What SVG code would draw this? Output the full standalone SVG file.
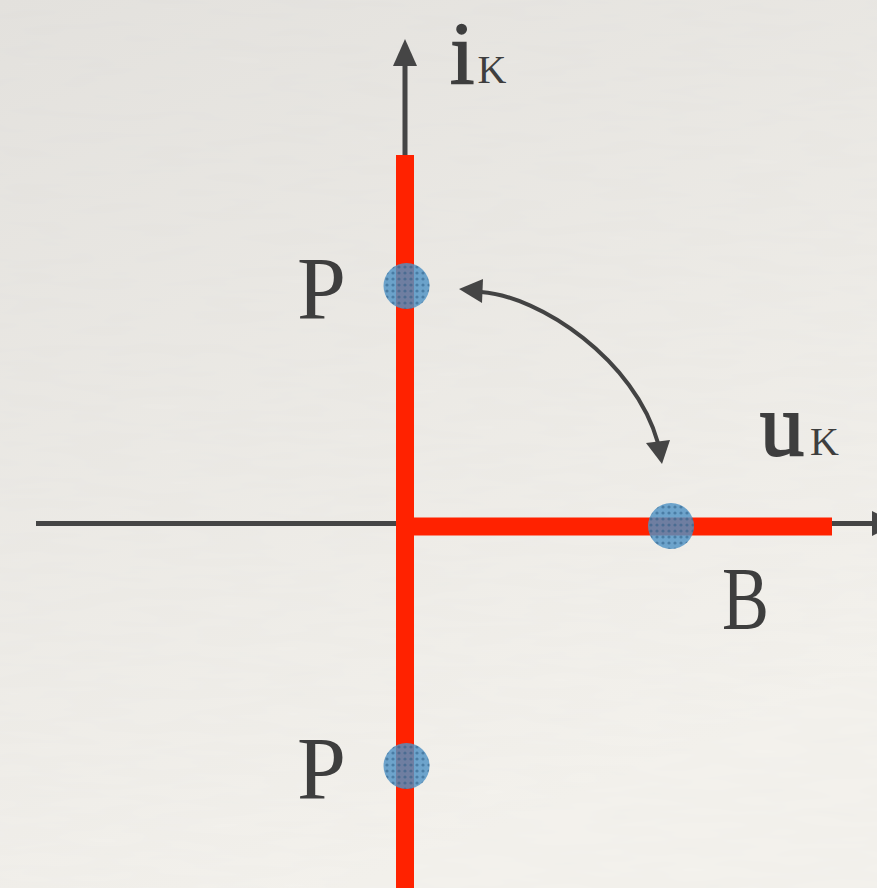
<svg xmlns="http://www.w3.org/2000/svg" width="877" height="888" viewBox="0 0 877 888">
  <defs>
    <linearGradient id="bg" x1="0" y1="0" x2="0.4" y2="1">
      <stop offset="0" stop-color="#e4e2de"/>
      <stop offset="1" stop-color="#f4f2ed"/>
    </linearGradient>
    <filter id="grain" x="0" y="0" width="100%" height="100%">
      <feTurbulence type="fractalNoise" baseFrequency="0.015 0.09" numOctaves="2" seed="3"/>
      <feColorMatrix type="matrix" values="0 0 0 0 0.5  0 0 0 0 0.5  0 0 0 0 0.5  0 0 0 0.06 0"/>
    </filter>
    <pattern id="dots" width="6" height="6" patternUnits="userSpaceOnUse">
      <circle cx="3" cy="3" r="1.6" fill="#2e5d85" opacity="0.55"/>
    </pattern>
    <style>
      .axis { stroke: #454545; stroke-width: 5; fill: none; }
      .head { fill: #454545; }
      .red { stroke: #ff2200; stroke-width: 18; fill: none; }
      .arc { stroke: #434343; stroke-width: 4; fill: none; }
      .dot { fill: #4f93c4; fill-opacity: 0.82; }
      .dotx { fill: url(#dots); }
      .lbl { font-family: "Liberation Serif", "DejaVu Serif", serif; fill: #3e3e3e; }
    </style>
  </defs>
  <rect width="877" height="888" fill="url(#bg)"/>
  <rect width="877" height="888" filter="url(#grain)"/>

  <g id="connectors">
    <line class="axis" x1="405" y1="62" x2="405" y2="888"/>
    <polygon class="head" points="405,39 393,66 417,66"/>
    <line class="axis" x1="36" y1="523.5" x2="874" y2="523.5"/>
    <polygon class="head" points="898,523.5 872,511 872,536"/>
    <line class="red" x1="405" y1="155" x2="405" y2="888"/>
    <line class="red" x1="396" y1="526.5" x2="832" y2="526.5"/>
    <path class="arc" d="M 481 292 C 540 296, 635 360, 658 443"/>
    <polygon class="head" points="459,289 483,279 482,303"/>
    <polygon class="head" points="662,464 646,443 670,440"/>
  </g>

  <g id="node-P-top">
    <circle class="dot" cx="406.5" cy="286" r="23"/>
    <circle class="dotx" cx="406.5" cy="286" r="23"/>
    <text class="lbl" x="297" y="318" font-size="88">P</text>
  </g>
  <g id="node-P-bottom">
    <circle class="dot" cx="406.5" cy="766" r="23"/>
    <circle class="dotx" cx="406.5" cy="766" r="23"/>
    <text class="lbl" x="297" y="798" font-size="88">P</text>
  </g>
  <g id="node-B">
    <circle class="dot" cx="671" cy="526" r="23"/>
    <circle class="dotx" cx="671" cy="526" r="23"/>
    <text class="lbl" transform="translate(722,628) scale(0.8,1)" font-size="88">B</text>
  </g>
  <g id="label-iK">
    <text class="lbl" x="450" y="83"><tspan font-size="88" stroke="#3e3e3e" stroke-width="1.5">i</tspan><tspan font-size="40" dx="3">K</tspan></text>
  </g>
  <g id="label-uK">
    <text class="lbl" transform="translate(760,455)"><tspan font-size="88" stroke="#3e3e3e" stroke-width="2">u</tspan><tspan font-size="40" dx="6">K</tspan></text>
  </g>
</svg>
